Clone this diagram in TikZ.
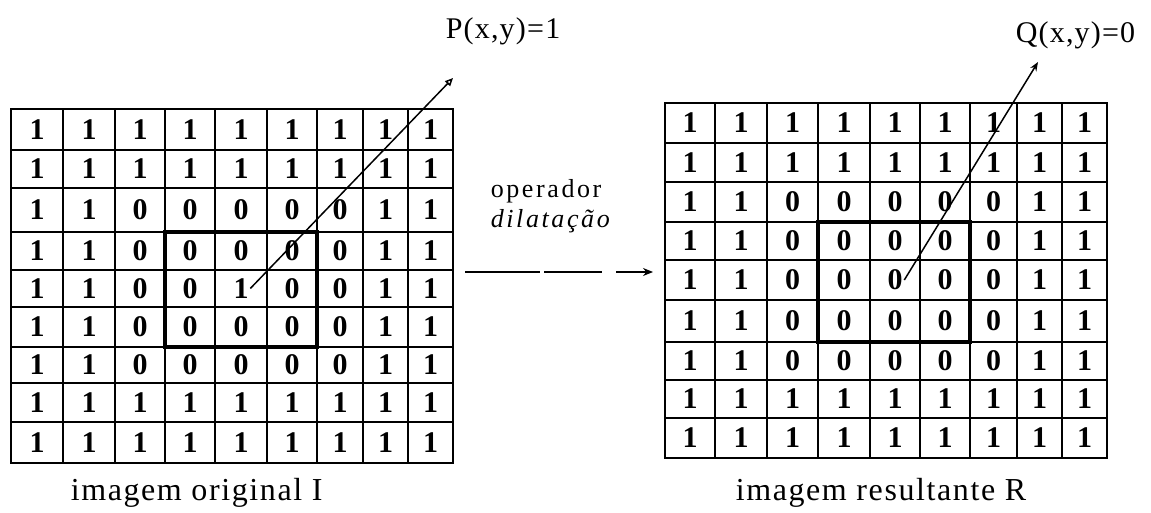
\documentclass[tikz,border=0pt]{standalone}
\usepackage{fontspec}
\setmainfont{Liberation Serif}
\usetikzlibrary{arrows.meta}

\begin{document}
\begin{tikzpicture}[x=1pt,y=-1pt,line width=1.6pt,
  cellnum/.style={inner sep=1pt,font=\fontsize{30}{32}\selectfont\bfseries},
  tagtext/.style={anchor=base west,inner sep=0pt,font=\fontsize{30}{32}\selectfont\addfontfeature{LetterSpace=4}},
  optext/.style={anchor=base west,inner sep=0pt,font=\fontsize{26}{28}\selectfont\addfontfeature{LetterSpace=10}},
  captext/.style={anchor=base west,inner sep=0pt,font=\fontsize{32}{34}\selectfont\addfontfeature{LetterSpace=5}}]
\path[use as bounding box] (0,0) rectangle (1151,513);
% original image I
\draw (11,109) -- (11,463);
\draw (63,109) -- (63,463);
\draw (115,109) -- (115,463);
\draw (165,109) -- (165,463);
\draw (215,109) -- (215,463);
\draw (267,109) -- (267,463);
\draw (317,109) -- (317,463);
\draw (363,109) -- (363,463);
\draw (408,109) -- (408,463);
\draw (453,109) -- (453,463);
\draw (11,109) -- (453,109);
\draw (11,150) -- (453,150);
\draw (11,188) -- (453,188);
\draw (11,232) -- (453,232);
\draw (11,270) -- (453,270);
\draw (11,307) -- (453,307);
\draw (11,347) -- (453,347);
\draw (11,383) -- (453,383);
\draw (11,422) -- (453,422);
\draw (11,463) -- (453,463);
\draw[line width=2.2pt] (11,109) rectangle (453,463);
\draw[line width=4pt] (165,232) rectangle (317,347);
\foreach \y [count=\r] in {129.5,169,210,251,288.5,327,365,402.5,442.5}
  \foreach \x [count=\c] in {37,89,140,190,241,292,340,385.5,430.5} {
    \pgfmathtruncatemacro\v{(\r>2 && \r<8 && \c>2 && \c<8 && !(\r==5 && \c==5)) ? 0 : 1}
    \node[cellnum] (l-\r-\c) at (\x,\y) {\v};
  }
% resulting image R
\draw (665,103) -- (665,458);
\draw (715,103) -- (715,458);
\draw (767,103) -- (767,458);
\draw (818,103) -- (818,458);
\draw (870,103) -- (870,458);
\draw (920,103) -- (920,458);
\draw (970,103) -- (970,458);
\draw (1017,103) -- (1017,458);
\draw (1062,103) -- (1062,458);
\draw (1107,103) -- (1107,458);
\draw (665,103) -- (1107,103);
\draw (665,143) -- (1107,143);
\draw (665,182) -- (1107,182);
\draw (665,222) -- (1107,222);
\draw (665,260) -- (1107,260);
\draw (665,300) -- (1107,300);
\draw (665,342) -- (1107,342);
\draw (665,380) -- (1107,380);
\draw (665,418) -- (1107,418);
\draw (665,458) -- (1107,458);
\draw[line width=2.2pt] (665,103) rectangle (1107,458);
\draw[line width=4pt] (818,222) rectangle (970,342);
\foreach \y [count=\r] in {123,162.5,202,241,280,321,361,399,438}
  \foreach \x [count=\c] in {690,741,792.5,844,895,945,993.5,1039.5,1084.5} {
    \pgfmathtruncatemacro\v{(\r>2 && \r<8 && \c>2 && \c<8) ? 0 : 1}
    \node[cellnum] (r-\r-\c) at (\x,\y) {\v};
  }
% labels and pointers
\node[tagtext] (ptag) at (445,39) {P(x,y)=1};
\node[tagtext] (qtag) at (1015,43) {Q(x,y)=0};
\coordinate (ptip) at (453,78);
\coordinate (qtip) at (1038,62);
\draw[line width=1.5pt,-{Triangle[open,length=8pt,width=7pt]}] (l-5-5.east) -- (ptip);
\draw[line width=1.5pt,-{Stealth[length=9pt,width=7pt]}] (r-5-5.east) -- (qtip);
\node[optext] (opname) at (490,198) {operador};
\node[optext] (opkind) at (490,228) {\itshape dilatação};
\coordinate (opstart) at (465,272);
\coordinate (opend) at (653,272);
\draw[line width=1.5pt,dash pattern=on 75pt off 4pt on 58pt off 14pt on 60pt,-{Stealth[length=10pt,width=8pt]}] (opstart) -- (opend);
\node[captext] (capl) at (70,500) {imagem original I};
\node[captext] (capr) at (735,500) {imagem resultante R};
\end{tikzpicture}
\end{document}
